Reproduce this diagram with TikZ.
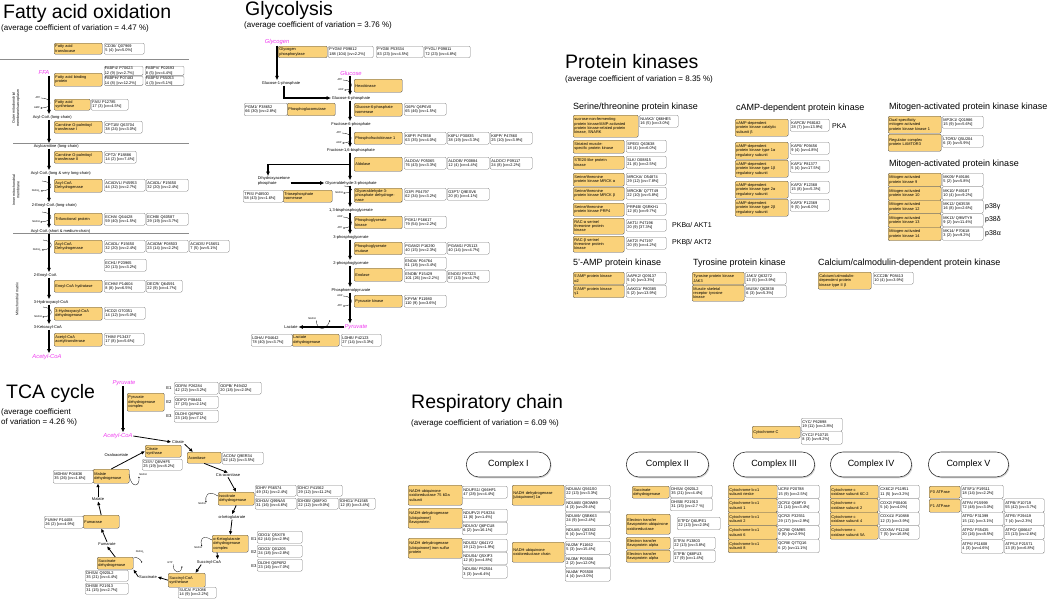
\documentclass[tikz,border=0pt]{standalone}
\usepackage{fontspec}
\setmainfont{Liberation Sans}
\usetikzlibrary{arrows.meta,shapes.misc,shadows}

\definecolor{enzfill}{RGB}{250,210,122}
\definecolor{metab}{RGB}{240,60,240}

\tikzset{
  enz/.style={draw=black!70, fill=enzfill, rounded corners=1.2pt, line width=0.4pt,
    anchor=north west, inner sep=1.2pt, align=left, font=\fontsize{3.9}{4.4}\selectfont},
  prot/.style={draw=black!50, fill=white, rounded corners=1.2pt, line width=0.4pt,
    anchor=north west, inner sep=1.2pt, align=left, font=\fontsize{3.9}{4.4}\selectfont},
  met/.style={inner sep=0.6pt, align=left, font=\fontsize{4}{4.5}\selectfont},
  key/.style={inner sep=0.6pt, text=metab, font=\itshape\fontsize{5.8}{6}\selectfont},
  cof/.style={inner sep=0.3pt, font=\fontsize{2.6}{3}\selectfont},
  region/.style={rotate=90, align=center, inner sep=0pt, font=\fontsize{3.6}{4.2}\selectfont},
  elab/.style={inner sep=0pt, font=\fontsize{4.2}{5}\selectfont},
  ttl/.style={anchor=west, inner sep=0pt, font=\fontsize{19.5}{21}\selectfont},
  sub/.style={anchor=west, inner sep=0pt, align=left, font=\fontsize{8}{10}\selectfont},
  hdr/.style={anchor=west, inner sep=0pt, font=\fontsize{9}{10}\selectfont},
  nick/.style={anchor=west, inner sep=0pt, font=\fontsize{7}{8}\selectfont},
  cplx/.style={rounded rectangle, draw=black!80, fill=white, line width=0.6pt,
    minimum height=25pt, font=\fontsize{9}{10}\selectfont,
    drop shadow={shadow xshift=1pt, shadow yshift=-1.3pt, fill=black!30}},
  main/.style={-{Latex[length=4.4pt,width=4pt]}, line width=1.05pt},
  cyc/.style={-{Latex[length=3.8pt,width=3.5pt]}, line width=0.8pt},
  cofarr/.style={-{Latex[length=1.5pt,width=1.4pt]}, line width=0.3pt},
  sepline/.style={draw=black!45, line width=0.6pt}
}

\begin{document}
\begin{tikzpicture}[x=1pt, y=-1pt]
  \useasboundingbox (0,0) rectangle (1050,600);
  \fill[white] (0,0) rectangle (1050,600);

  % ---------------- Fatty acid oxidation
  \node[ttl] (fatitle) at (3,13) {Fatty acid oxidation};
  \node[sub] (fasub) at (1,28) {(average coefficient of variation = 4.47 \%)};
  \draw[sepline] (0,59) -- (189,59);
  \draw[sepline] (13,143) -- (189,143);
  \draw[sepline] (13,233) -- (189,233);
  \node[region] (faouter) at (16,108) {Outer mitochondrial\\membrane/sarcoplasm};
  \node[region] (fainner) at (16,190) {Inner mitochondrial\\membrane};
  \node[region] (famatrix) at (17,299) {Mitochondrial matrix};

  \coordinate (fax) at (49,0);
  \node[key] (ffa) at (44,73) {FFA};
  \node[met, anchor=west] (facyl1) at (32,117) {Acyl-CoA (long-chain)};
  \node[met, anchor=west] (facarn) at (33,146) {Acylcarnitine (long-chain)};
  \node[met, anchor=west] (facyl2) at (30,173) {Acyl-CoA (long \& very long-chain)};
  \node[met, anchor=west] (faenoyl1) at (31,205) {2-Enoyl-CoA (long-chain)};
  \node[met, anchor=west] (facyl3) at (30,231) {Acyl-CoA (short \& medium-chain)};
  \node[met, anchor=west] (faenoyl2) at (33,275) {2-Enoyl-CoA};
  \node[met, anchor=west] (fahydr) at (33,302) {3-Hydroxyacyl-CoA};
  \node[met, anchor=west] (faketo) at (33,327) {3-Ketoacyl-CoA};
  \node[key] (faacoa) at (47,357) {Acetyl-CoA};
  \draw[main] (ffa.south -| fax) -- (facyl1.north -| fax);
  \draw[main] (facyl1.south -| fax) -- (facarn.north -| fax);
  \draw[main] (facarn.south -| fax) -- (facyl2.north -| fax);
  \draw[main] (facyl2.south -| fax) -- (faenoyl1.north -| fax);
  \draw[main] (faenoyl1.south -| fax) -- (facyl3.north -| fax);
  \draw[main] (facyl3.south -| fax) -- (faenoyl2.north -| fax);
  \draw[main] (faenoyl2.south -| fax) -- (fahydr.north -| fax);
  \draw[main] (fahydr.south -| fax) -- (faketo.north -| fax);
  \draw[main] (faketo.south -| fax) -- (faacoa.north -| fax);

  \node[enz, text width=45.6pt, minimum height=11pt] (fatrans) at (54,43) {Fatty acid\\translocase};
  \node[prot, text width=37.6pt, minimum height=11pt] (cd36) at (104,43) {CD36/ Q07969\\5 (4) [cv=5.0\%]};
  \node[enz, text width=45.6pt, minimum height=13pt] (fabind) at (54,73) {Fatty acid binding\\protein};
  \node[prot, text width=37.6pt, inner sep=0.6pt, minimum height=9pt] (fabp4) at (104,66) {FABP4/ P70623\\12 (9) [cv=2.7\%]};
  \node[prot, text width=37.6pt, inner sep=0.6pt, minimum height=9pt] (fabph) at (104,76) {FABPH/ P07483\\14 (8) [cv=12.2\%]};
  \node[prot, text width=37.6pt, inner sep=0.6pt, minimum height=9pt] (fabpv) at (145,66) {FABPV/ P02693\\8 (5) [cv=4.4\%]};
  \node[prot, text width=37.6pt, inner sep=0.6pt, minimum height=9pt] (fabp5) at (145,76) {FABP5/ P55053\\4 (3) [cv=5.1\%]};
  \node[enz, text width=33.6pt, minimum height=11pt] (fasyn) at (54,99) {Fatty acid\\synthetase};
  \node[prot, text width=34.6pt, minimum height=11pt] (fas) at (91,99) {FAS/ P12785\\17 (3) [cv=4.5\%]};
  \node[enz, text width=45.6pt, minimum height=12pt] (facpt1) at (54,121) {Carnitine O-palmitoyl\\transferase I};
  \node[prot, text width=35.6pt, minimum height=12pt] (cpt1b) at (104,121) {CPT1B/ Q63704\\38 (24) [cv=3.0\%]};
  \node[enz, text width=45.6pt, minimum height=12pt] (facpt2) at (54,151) {Carnitine O-palmitoyl\\transferase II};
  \node[prot, text width=29.6pt, minimum height=12pt] (cpt2) at (104,151) {CPT2/ P18886\\14 (2) [cv=7.4\%]};
  \node[enz, text width=45.6pt, minimum height=13pt] (faacad1) at (54,179) {Acyl-CoA\\Dehydrogenase};
  \node[prot, text width=38.6pt, minimum height=12pt] (acadvl) at (104,179) {ACADVL/ P45953\\44 (32) [cv=2.7\%]};
  \node[prot, text width=39.6pt, minimum height=12pt] (acadl) at (146,179) {ACADL/ P15650\\32 (20) [cv=2.4\%]};
  \node[enz, text width=45.6pt, minimum height=12pt] (fatri) at (54,213) {Trifunctional protein};
  \node[prot, text width=38.6pt, minimum height=12pt] (echa) at (104,213) {ECHA/ Q64428\\59 (40) [cv=1.5\%]};
  \node[prot, text width=39.6pt, minimum height=12pt] (echb) at (146,213) {ECHB/ Q60587\\29 (19) [cv=3.7\%]};
  \node[enz, text width=45.6pt, minimum height=13pt] (faacad2) at (54,240) {Acyl-CoA\\Dehydrogenase};
  \node[prot, text width=38.6pt, minimum height=12pt] (acadl2) at (104,240) {ACADL/ P15650\\32 (20) [cv=2.4\%]};
  \node[prot, text width=39.6pt, minimum height=12pt] (acadm) at (146,240) {ACADM/ P08503\\23 (14) [cv=2.2\%]};
  \node[prot, text width=37.6pt, minimum height=12pt] (acads) at (189,240) {ACADS/ P15651\\7 (5) [cv=5.1\%]};
  \node[prot, text width=39.6pt, minimum height=12pt] (ech1) at (104,259) {ECH1/ P23965\\20 (13) [cv=3.2\%]};
  \node[enz, text width=45.6pt, minimum height=12pt] (faech) at (54,280) {Enoyl-CoA hydratase};
  \node[prot, text width=38.6pt, minimum height=12pt] (echm) at (104,280) {ECHM/ P14604\\8 (8) [cv=6.5\%]};
  \node[prot, text width=33.6pt, minimum height=12pt] (decr) at (146,280) {DECR/ Q64591\\22 (9) [cv=4.7\%]};
  \node[enz, text width=45.6pt, minimum height=13pt] (fahad) at (54,307) {3-Hydroxyacyl-CoA\\dehydrogenase};
  \node[prot, text width=38.6pt, minimum height=12pt] (hcd2) at (104,307) {HCD2/ O70351\\14 (12) [cv=5.0\%]};
  \node[enz, text width=45.6pt, minimum height=13pt] (fathio) at (54,333) {Acetyl-CoA\\acetyltransferase};
  \node[prot, text width=37.6pt, minimum height=12pt] (thim) at (104,333) {THIM/ P13437\\17 (8) [cv=5.6\%]};

  \node[cof] (faatp) at (38,98) {ATP};
  \node[cof] (faamp) at (37,108) {AMP};
  \draw[cofarr] (faatp.east) .. controls (53,98) and (53,108) .. (faamp.east);
  \coordinate (fac1) at (42,181);
  \node[cof] (fafadh1) at (36,191) {FADH\textsubscript{2}};
  \draw[cofarr] (fac1) .. controls (54,182) and (54,190) .. (fafadh1.east);
  \coordinate (fac2) at (42,212);
  \node[cof] (fanadh1) at (36,222) {NADH};
  \draw[cofarr] (fac2) .. controls (54,213) and (54,221) .. (fanadh1.east);
  \coordinate (fac3) at (43,240);
  \node[cof] (fafadh2) at (37,250) {FADH\textsubscript{2}};
  \draw[cofarr] (fac3) .. controls (54,241) and (54,249) .. (fafadh2.east);
  \coordinate (fac4) at (43,307);
  \node[cof] (fanadh2) at (38,317) {NADH};
  \draw[cofarr] (fac4) .. controls (54,308) and (54,316) .. (fanadh2.east);

  % ---------------- Glycolysis
  \node[ttl] (gltitle) at (245,10) {Glycolysis};
  \node[sub] (glsub) at (244,25) {(average coefficient of variation = 3.76 \%)};
  \coordinate (gx) at (350,0);
  \coordinate (bx) at (268,0);
  \node[key] (glycogen) at (277,42) {Glycogen};
  \node[met] (g1p) at (281,83) {Glucose-1-phosphate};
  \node[key] (glucose) at (351,73) {Glucose};
  \node[met] (g6p) at (351,98) {Glucose-6-phosphate};
  \node[met] (f6p) at (351,124) {Fructose-6-phosphate};
  \node[met] (f16bp) at (351,150) {Fructose-1,6-bisphosphate};
  \node[met, anchor=west] (dhap) at (257,181) {Dihydroxyacetone\\phosphate};
  \node[met] (gap) at (351,183) {Glyceraldehyde-3-phosphate};
  \node[met] (bpg) at (351,210) {1,3-bisphosphoglycerate};
  \node[met] (pg3) at (351,237) {3-phosphoglycerate};
  \node[met] (pg2) at (351,263) {2-phosphoglycerate};
  \node[met] (pep) at (351,290) {Phosphoenolpyruvate};
  \node[key] (pyr) at (356,327) {Pyruvate};
  \node[met] (lactate) at (291,327) {Lactate};

  \node[enz, text width=46.6pt, minimum height=11.5pt] (gp) at (278,46) {Glycogen\\phosphorylase};
  \node[prot, text width=42.6pt, minimum height=11.5pt] (pygm) at (328,46) {PYGM/ P09812\\188 (104) [cv=2.2\%]};
  \node[prot, text width=44.6pt, minimum height=11.5pt] (pygb) at (376,46) {PYGB/ P53534\\83 (23) [cv=4.5\%]};
  \node[prot, text width=43.6pt, minimum height=11.5pt] (pygl) at (424,46) {PYGL/ P09811\\72 (23) [cv=4.8\%]};
  \node[enz, text width=45.6pt, minimum height=13pt] (hk) at (354,79) {Hexokinase};
  \node[enz, text width=45.6pt, minimum height=12.5pt] (pgm) at (287,103) {Phosphoglucomutase};
  \node[prot, text width=40.6pt, minimum height=12.5pt] (pgm1) at (244,103) {PGM1/ P38652\\66 (30) [cv=2.8\%]};
  \node[enz, text width=45.6pt, minimum height=13pt] (gpi) at (354,103) {Glucose-6-phosphate\\isomerase};
  \node[prot, text width=39.6pt, minimum height=12pt] (g6pi) at (404,103) {G6PI/ Q6P6V0\\65 (46) [cv=1.5\%]};
  \node[enz, text width=45.6pt, minimum height=12pt] (pfk) at (354,132) {Phosphofructokinase 1};
  \node[prot, text width=39.6pt, minimum height=12pt] (k6pf) at (404,132) {K6PF/ P47858\\63 (35) [cv=4.0\%]};
  \node[prot, text width=39.6pt, minimum height=12pt] (k6pl) at (447,132) {K6PL/ P30835\\38 (19) [cv=3.3\%]};
  \node[prot, text width=39.6pt, minimum height=12pt] (k6pp) at (490,132) {K6PP/ P47860\\25 (10) [cv=3.9\%]};
  \node[enz, text width=45.6pt, minimum height=14pt] (aldo) at (354,157) {Aldolase};
  \node[prot, text width=39.6pt, minimum height=12pt] (aldoa) at (404,157) {ALDOA/ P05065\\76 (43) [cv=3.3\%]};
  \node[prot, text width=39.6pt, minimum height=12pt] (aldob) at (447,157) {ALDOB/ P00884\\12 (4) [cv=4.4\%]};
  \node[prot, text width=39.6pt, minimum height=12pt] (aldoc) at (490,157) {ALDOC/ P09117\\24 (8) [cv=2.2\%]};
  \node[enz, text width=46.6pt, minimum height=12pt] (tpi) at (283,190) {Triosephosphate\\isomerase};
  \node[prot, text width=37.6pt, minimum height=12pt] (tpis) at (243,190) {TPIS/ P48500\\58 (43) [cv=1.6\%]};
  \node[enz, text width=45.6pt, minimum height=12pt] (gapdh) at (354,188) {Glyceraldehyde-3-\\phosphate dehydrogenase};
  \node[prot, text width=39.6pt, minimum height=12pt] (g3p) at (404,188) {G3P/ P04797\\62 (34) [cv=3.2\%]};
  \node[prot, text width=39.6pt, minimum height=12pt] (g3pt) at (447,188) {G3PT/ Q9ESV6\\20 (6) [cv=4.1\%]};
  \node[enz, text width=45.6pt, minimum height=12.5pt] (pgk) at (354,216) {Phosphoglycerate\\kinase};
  \node[prot, text width=39.6pt, minimum height=12pt] (pgk1) at (404,216) {PGK1/ P16617\\79 (54) [cv=2.2\%]};
  \node[enz, text width=45.6pt, minimum height=12.5pt] (pgam) at (354,242) {Phosphoglycerate\\mutase};
  \node[prot, text width=39.6pt, minimum height=12pt] (pgam2) at (404,242) {PGAM2/ P16290\\40 (15) [cv=2.3\%]};
  \node[prot, text width=39.6pt, minimum height=12pt] (pgam1) at (447,242) {PGAM1/ P25113\\40 (14) [cv=4.7\%]};
  \node[enz, text width=45.6pt, minimum height=13pt] (eno) at (354,268) {Enolase};
  \node[prot, text width=39.6pt, minimum height=12pt] (enoa) at (404,257) {ENOA/ P04764\\61 (18) [cv=3.4\%]};
  \node[prot, text width=39.6pt, minimum height=12pt] (enob) at (404,270) {ENOB/ P15429\\101 (26) [cv=2.2\%]};
  \node[prot, text width=39.6pt, minimum height=12pt] (enog) at (447,270) {ENOG/ P07323\\67 (13) [cv=4.7\%]};
  \node[enz, text width=45.6pt, minimum height=12pt] (pk) at (354,295) {Pyruvate kinase};
  \node[prot, text width=39.6pt, minimum height=12pt] (kpym) at (404,295) {KPYM/ P11980\\110 (9) [cv=3.6\%]};
  \node[enz, text width=44.6pt, minimum height=12pt] (ldh) at (292,334) {Lactate\\dehydrogenase};
  \node[prot, text width=38.6pt, minimum height=12pt] (ldha) at (251,334) {LDHA/ P04642\\78 (40) [cv=3.7\%]};
  \node[prot, text width=37.6pt, minimum height=12pt] (ldhb) at (341,334) {LDHB/ P42123\\27 (14) [cv=3.3\%]};

  \draw[main] (glycogen.south) -- (glycogen.south |- g1p.north);
  \draw[main] ([xshift=3pt]g1p.south) |- (g6p.west);
  \draw[main] (glucose.south -| gx) -- (g6p.north -| gx);
  \draw[main] (g6p.south -| gx) -- (f6p.north -| gx);
  \draw[main] (f6p.south -| gx) -- (f16bp.north -| gx);
  \draw[main] (f16bp.south -| gx) -- (gap.north -| gx);
  \draw[main] (aldo.west -| gx) -| (dhap.north -| bx);
  \draw[main] (dhap.east |- gap) -- (gap.west);
  \draw[main] (gap.south -| gx) -- (bpg.north -| gx);
  \draw[main] (bpg.south -| gx) -- (pg3.north -| gx);
  \draw[main] (pg3.south -| gx) -- (pg2.north -| gx);
  \draw[main] (pg2.south -| gx) -- (pep.north -| gx);
  \draw[main] (pep.south -| gx) -- (pyr.north -| gx);
  \draw[main] (pyr.west) -- (lactate.east);

  \node[cof] (hkatp) at (340,80) {ATP};
  \node[cof] (hkadp) at (341,90) {ADP};
  \draw[cofarr] (hkatp.east) .. controls (354,80) and (354,90) .. (hkadp.east);
  \node[cof] (pfkatp) at (339,133) {ATP};
  \node[cof] (pfkadp) at (339,143) {ADP};
  \draw[cofarr] (pfkatp.east) .. controls (354,133) and (354,143) .. (pfkadp.east);
  \coordinate (gapc) at (344,186);
  \node[cof] (gapnadh) at (339,193) {NADH};
  \draw[cofarr] (gapc) .. controls (354,186) and (354,193) .. (gapnadh.east);
  \node[cof] (pgkadp) at (340,217) {ADP};
  \node[cof] (pgkatp) at (340,228) {ATP};
  \draw[cofarr] (pgkadp.east) .. controls (354,217) and (354,228) .. (pgkatp.east);
  \node[cof] (pkadp) at (340,296) {ADP};
  \node[cof] (pkatp) at (340,306) {ATP};
  \draw[cofarr] (pkadp.east) .. controls (354,296) and (354,306) .. (pkatp.east);
  \node[cof] (lacnadh) at (312,319) {NADH};
  \coordinate (lacc) at (330,320);
  \draw[cofarr] (lacnadh.south east) .. controls (317,331) and (326,331) .. (lacc);

  % ---------------- TCA cycle
  \node[ttl] (tcatitle) at (6,393) {TCA cycle};
  \node[sub] (tcasub) at (1,417) {(average coefficient\\of variation = 4.26 \%)};
  \coordinate (tpx) at (123,0);
  \node[key] (tpyr) at (124,383) {Pyruvate};
  \node[enz, text width=34.6pt, minimum height=18pt] (pdh) at (127,393) {Pyruvate\\dehydrogenase\\complex};
  \node[elab] (pdhe1) at (169,388) {E1};
  \node[elab] (pdhe2) at (169,402) {E2};
  \node[elab] (pdhe3) at (169,416) {E3};
  \node[prot, text width=41.6pt, minimum height=12pt] (odpa) at (174,382) {ODPA/ P26284\\42 (22) [cv=3.2\%]};
  \node[prot, text width=39.6pt, minimum height=12pt] (odpb) at (219,382) {ODPB/ P49432\\20 (18) [cv=2.0\%]};
  \node[prot, text width=41.6pt, minimum height=12pt] (odp2) at (174,396) {ODP2/ P08461\\37 (25) [cv=2.1\%]};
  \node[prot, text width=41.6pt, minimum height=12pt] (dldha) at (174,410) {DLDH/ Q6P6R2\\23 (16) [cv=7.1\%]};
  \node[key] (tacoa) at (118,436) {Acetyl-CoA};
  \draw[main] (tpyr.south -| tpx) -- (tacoa.north -| tpx);

  \node[met] (citrate) at (178,442) {Citrate};
  \node[enz, text width=33.6pt, minimum height=12pt] (cs) at (145,445) {Citrate\\synthase};
  \node[prot, text width=37.6pt, minimum height=11pt] (cisy) at (142,459) {CISY/ Q8VHF5\\25 (19) [cv=8.2\%]};
  \node[enz, text width=31.6pt, minimum height=11pt] (acon) at (187,452) {Aconitase};
  \node[prot, text width=38.6pt, minimum height=12pt] (acony) at (222,452) {ACON/ Q9ER34\\62 (42) [cv=3.5\%]};
  \node[met] (cisacon) at (228,475) {Cis-aconitase};
  \node[enz, text width=33.6pt, minimum height=13pt] (idh) at (218,492) {Isocitrate\\dehydrogenase};
  \node[prot, text width=38.6pt, minimum height=11pt] (idhp) at (255,485) {IDHP/ P56574\\49 (31) [cv=2.4\%]};
  \node[prot, text width=42.6pt, minimum height=11pt] (idhc) at (297,485) {IDHC/ P41562\\29 (12) [cv=11.2\%]};
  \node[prot, text width=38.6pt, minimum height=11pt] (idh3a) at (255,498) {IDH3A/ Q99NA5\\31 (16) [cv=4.6\%]};
  \node[prot, text width=38.6pt, minimum height=11pt] (idh3b) at (297,498) {IDH3B/ Q68FX0\\22 (12) [cv=9.0\%]};
  \node[prot, text width=33.6pt, minimum height=11pt] (idhg1) at (339,498) {IDHG1/ P41565\\12 (8) [cv=3.4\%]};
  \node[met] (akg) at (232,517) {α-ketoglutarate};
  \node[enz, text width=33.6pt, minimum height=17pt] (akgdh) at (212,535) {α-Ketoglutarate\\dehydrogenase\\complex};
  \node[elab] (akge1) at (254,539) {E1};
  \node[elab] (akge2) at (254,552) {E2};
  \node[elab] (akge3) at (254,566) {E3};
  \node[prot, text width=42.6pt, minimum height=12pt] (odo1) at (257,531) {ODO1/ Q5XI78\\62 (44) [cv=2.9\%]};
  \node[prot, text width=42.6pt, minimum height=12pt] (odo2) at (257,545) {ODO2/ Q01205\\24 (18) [cv=2.8\%]};
  \node[prot, text width=42.6pt, minimum height=12pt] (dldhb) at (257,559) {DLDH/ Q6P6R2\\23 (16) [cv=7.0\%]};
  \node[met] (succoa) at (209,562) {Succinyl-CoA};
  \node[enz, text width=34.6pt, minimum height=14pt] (scs) at (168,573) {Succinyl-CoA\\synthetase};
  \node[prot, text width=35.6pt, minimum height=11pt] (suca) at (178,587) {SUCA/ P13086\\14 (9) [cv=2.2\%]};
  \node[met] (succ) at (148,577) {Succinate};
  \node[enz, text width=33.6pt, minimum height=12pt] (sdh) at (97,557) {Succinate\\dehydrogenase};
  \node[prot, text width=40.6pt, minimum height=11pt] (dhsa) at (85,570) {DHSA/ Q920L2\\35 (21) [cv=4.4\%]};
  \node[prot, text width=40.6pt, minimum height=11pt] (dhsb) at (85,583) {DHSB/ P21913\\31 (15) [cv=2.7\%]};
  \node[met] (fumarate) at (107,544) {Fumarate};
  \node[enz, text width=33.6pt, minimum height=13pt] (fum) at (83,515) {Fumarase};
  \node[prot, text width=36.6pt, minimum height=12pt] (fumh) at (44,516) {FUMH/ P14408\\26 (2) [cv=4.9\%]};
  \node[met] (malate) at (98,499) {Malate};
  \node[enz, text width=33.6pt, minimum height=14pt] (mdh) at (93,469) {Malate\\dehydrogenase};
  \node[prot, text width=37.6pt, minimum height=13pt] (mdhm) at (53,470) {MDHM/ P04636\\35 (26) [cv=1.6\%]};
  \node[met, anchor=east] (oaa) at (129,455) {Oxaloacetate};

  \draw[cyc] (tacoa.east) -- (citrate.west);
  \draw[cyc] (citrate.south east) -- ([xshift=6pt]acon.north west);
  \draw[cyc] (acon.south) -- (cisacon.north);
  \draw[cyc] (cisacon.south) -- (idh.north);
  \draw[cyc] (idh.south) -- (akg.north);
  \draw[cyc] (akg.south) -- (akgdh.north);
  \draw[cyc] ([xshift=5pt]akgdh.south west) -- ([xshift=-4pt]succoa.north east);
  \draw[cyc] ([xshift=5pt]succoa.south west) -- ([xshift=-10pt]scs.north east);
  \draw[cyc] (scs.west) -- (succ.east);
  \draw[cyc] (succ.west) -- (sdh.south east);
  \draw[cyc] (sdh.north) -- (fumarate.south);
  \draw[cyc] (fumarate.north) -- (fum.south);
  \draw[cyc] (fum.north) -- (malate.south);
  \draw[cyc] (malate.north) -- (malate.north |- mdh.south);
  \draw[cyc] (mdh.north) -- (cs.west);

  \coordinate (mdhc) at (129,474);
  \node[cof] (mdhnadh) at (143,475) {NADH};
  \draw[cofarr] (mdhc) .. controls (131,489) and (140,487) .. (mdhnadh.south west);
  \coordinate (idhc) at (218,496);
  \node[cof] (idhnadh) at (202,504) {NADH};
  \draw[cofarr] (idhc) .. controls (207,489) and (205,497) .. (idhnadh.north east);
  \coordinate (akgc) at (212,540);
  \node[cof] (akgnadh) at (198,548) {NADH};
  \draw[cofarr] (akgc) .. controls (201,533) and (200,542) .. (akgnadh.north east);
  \node[cof] (scsgtp) at (170,563) {GTP};
  \coordinate (scsc) at (182,566);
  \draw[cofarr] (scsgtp.south east) .. controls (173,574) and (181,574) .. (scsc);
  \node[cof] (sdhfad) at (140,552) {FADH\textsubscript{2}};
  \coordinate (sdhc) at (142,563);
  \draw[cofarr] ([yshift=-1pt]sdh.north east) .. controls (137,556) and (141,560) .. (sdhc);

  % ---------------- Protein kinases
  \node[ttl] (pktitle) at (565,62) {Protein kinases};
  \node[sub] (pksub) at (565,79) {(average coefficient of variation = 8.35 \%)};
  \node[hdr] (stk) at (573,107) {Serine/threonine protein kinase};
  \node[hdr] (campk) at (736,108) {cAMP-dependent protein kinase};
  \node[hdr] (mapkk) at (889,107) {Mitogen-activated protein kinase kinase};
  \node[hdr] (mapk) at (889,164) {Mitogen-activated protein kinase};
  \node[hdr] (ampk) at (573,263) {5'-AMP protein kinase};
  \node[hdr] (tyrk) at (693,263) {Tyrosine protein kinase};
  \node[hdr] (camk) at (818,263) {Calcium/calmodulin-dependent protein kinase};

  \node[enz, text width=62.6pt, minimum height=22pt] (snark) at (573,115) {sucrose-non-fermenting\\protein kinase/AMP-activated\\protein kinase-related protein\\kinase, SNARK};
  \node[prot, text width=36.6pt, minimum height=12pt] (nuak2) at (639,115) {NUAK2/ Q66HE5\\16 (5) [cv=3.0\%]};
  \node[enz, text width=48.6pt, minimum height=13pt] (speg) at (573,140) {Striated muscle-\\specific protein kinase};
  \node[prot, text width=37.6pt, minimum height=12pt] (spegp) at (626,140) {SPEG/ Q63638\\18 (4) [cv=6.0\%]};
  \node[enz, text width=48.6pt, minimum height=13pt] (ste) at (573,156) {STE20-like protein\\kinase};
  \node[prot, text width=37.6pt, minimum height=12pt] (slk) at (626,156) {SLK/ O08815\\21 (6) [cv=2.5\%]};
  \node[enz, text width=48.6pt, minimum height=13pt] (mrcka) at (573,173) {Serine/threonine\\protein kinase MRCK α};
  \node[prot, text width=37.6pt, minimum height=12pt] (mrckap) at (626,173) {MRCKA/ O54874\\29 (12) [cv=7.8\%]};
  \node[enz, text width=48.6pt, minimum height=13pt] (mrckb) at (573,187) {Serine/threonine\\protein kinase MRCK β};
  \node[prot, text width=37.6pt, minimum height=12pt] (mrckbp) at (626,187) {MRCKB/ Q7TT49\\22 (10) [cv=5.8\%]};
  \node[enz, text width=48.6pt, minimum height=13pt] (prp4) at (573,203) {Serine/threonine\\protein kinase PRP4};
  \node[prot, text width=37.6pt, minimum height=12pt] (prp4b) at (626,203) {PRP4B/ Q5RKH1\\12 (6) [cv=9.7\%]};
  \node[enz, text width=48.6pt, minimum height=16pt] (akt1) at (573,218) {RAC-α serine/\\threonine protein\\kinase};
  \node[prot, text width=37.6pt, minimum height=12pt] (akt1p) at (626,219) {AKT1/ P47196\\20 (9) [37.3\%]};
  \node[nick] (pkba) at (672,225) {PKBα/ AKT1};
  \node[enz, text width=48.6pt, minimum height=16pt] (akt2) at (573,236) {RAC-β serine/\\threonine protein\\kinase};
  \node[prot, text width=37.6pt, minimum height=12pt] (akt2p) at (626,237) {AKT2/ P47197\\20 (9) [cv=4.2\%]};
  \node[nick] (pkbb) at (672,243) {PKBβ/ AKT2};

  \node[enz, text width=48.6pt, minimum height=12.5pt] (aapk) at (573,272) {5'AMP protein kinase\\α2};
  \node[prot, text width=37.6pt, minimum height=12pt] (aapk2) at (626,272) {AAPK2/ Q09137\\5 (4) [cv=3.3\%]};
  \node[enz, text width=48.6pt, minimum height=12.5pt] (aakg) at (573,285) {5'AMP protein kinase\\γ1};
  \node[prot, text width=37.6pt, minimum height=12pt] (aakg1) at (626,285) {AAKG1/ P80385\\5 (2) [cv=13.9\%]};
  \node[enz, text width=49.6pt, minimum height=12.5pt] (jak) at (692,272) {Tyrosine protein kinase\\JAK3};
  \node[prot, text width=38.6pt, minimum height=12pt] (jak3) at (745,272) {JAK3/ Q63272\\13 (5) [cv=3.9\%]};
  \node[enz, text width=49.6pt, minimum height=16pt] (musk) at (692,285) {Muscle skeletal\\receptor tyrosine\\kinase};
  \node[prot, text width=38.6pt, minimum height=12pt] (muskp) at (745,285) {MUSK/ Q62838\\6 (3) [cv=5.3\%]};

  \node[enz, text width=50.6pt, minimum height=17pt] (kapc) at (735,119) {cAMP-dependent\\protein kinase catalytic\\subunit β};
  \node[prot, text width=36.6pt, minimum height=12pt] (kapcb) at (790,119) {KAPCB/ P68182\\28 (7) [cv=13.9\%]};
  \node[nick] (pka) at (832,126) {PKA};
  \node[enz, text width=50.6pt, minimum height=17pt] (kap0r) at (735,142) {cAMP-dependent\\protein kinase type 1α\\regulatory subunit};
  \node[prot, text width=36.6pt, minimum height=12pt] (kap0) at (790,142) {KAP0/ P09456\\9 (4) [cv=4.8\%]};
  \node[enz, text width=50.6pt, minimum height=17pt] (kap1r) at (735,160) {cAMP-dependent\\protein kinase type 1β\\regulatory subunit};
  \node[prot, text width=36.6pt, minimum height=12pt] (kap1) at (790,160) {KAP1/ P81377\\5 (4) [cv=17.5\%]};
  \node[enz, text width=50.6pt, minimum height=17pt] (kap2r) at (735,181) {cAMP-dependent\\protein kinase type 2α\\regulatory subunit};
  \node[prot, text width=36.6pt, minimum height=12pt] (kap2) at (790,181) {KAP2/ P12368\\15 (8) [cv=5.3\%]};
  \node[enz, text width=50.6pt, minimum height=17pt] (kap3r) at (735,199) {cAMP-dependent\\protein kinase type 2β\\regulatory subunit};
  \node[prot, text width=36.6pt, minimum height=12pt] (kap3) at (790,199) {KAP3/ P12369\\9 (5) [cv=6.0\%]};

  \node[enz, text width=50.6pt, minimum height=17pt] (mp2k) at (888,116) {Dual specificity\\mitogen-activated\\protein kinase kinase 1};
  \node[prot, text width=38.6pt, minimum height=12pt] (mp2k1) at (942,116) {MP2K1/ Q01986\\15 (9) [cv=5.6\%]};
  \node[enz, text width=50.6pt, minimum height=17pt] (lamtor) at (888,134) {Regulator complex\\protein LAMTOR3};
  \node[prot, text width=38.6pt, minimum height=12pt] (ltor3) at (942,135) {LTOR3/ Q5U204\\6 (3) [cv=5.9\%]};
  \node[enz, text width=50.6pt, minimum height=13.5pt] (mk9e) at (888,173) {Mitogen-activated\\protein kinase 9};
  \node[prot, text width=38.6pt, minimum height=13pt] (mk09) at (942,173) {MK09/ P49186\\5 (2) [cv=5.8\%]};
  \node[enz, text width=50.6pt, minimum height=13.5pt] (mk10e) at (888,186.5) {Mitogen-activated\\protein kinase 10};
  \node[prot, text width=38.6pt, minimum height=13pt] (mk10) at (942,186.5) {MK10/ P49187\\10 (4) [cv=9.2\%]};
  \node[enz, text width=50.6pt, minimum height=13.5pt] (mk12e) at (888,200) {Mitogen-activated\\protein kinase 12};
  \node[prot, text width=38.6pt, minimum height=13pt] (mk12) at (942,200) {MK12/ Q63538\\16 (8) [cv=2.6\%]};
  \node[enz, text width=50.6pt, minimum height=13.5pt] (mk13e) at (888,213.5) {Mitogen-activated\\protein kinase 13};
  \node[prot, text width=38.6pt, minimum height=13pt] (mk13) at (942,213.5) {MK13/ Q9WTY9\\9 (2) [cv=11.4\%]};
  \node[enz, text width=50.6pt, minimum height=13.5pt] (mk14e) at (888,227) {Mitogen-activated\\protein kinase 14};
  \node[prot, text width=38.6pt, minimum height=13pt] (mk14) at (942,227) {MK14/ P70618\\3 (2) [cv=9.2\%]};
  \node[nick] (p38g) at (985,207) {p38γ};
  \node[nick] (p38d) at (985,220) {p38δ};
  \node[nick] (p38a) at (985,234) {p38α};

  \node[enz, text width=50.6pt, minimum height=17pt] (kcc) at (818,272) {Calcium/calmodulin-\\dependent protein\\kinase type II β};
  \node[prot, text width=37.6pt, minimum height=12pt] (kcc2b) at (873,272) {KCC2B/ P08413\\10 (4) [cv=3.9\%]};

  % ---------------- Respiratory chain
  \node[ttl] (rctitle) at (411,403) {Respiratory chain};
  \node[sub] (rcsub) at (411,423) {(average coefficient of variation = 6.09 \%)};
  \node[enz, text width=45.6pt, minimum height=12pt] (cytc) at (752,426) {Cytochrome C};
  \node[prot, text width=38.6pt, minimum height=13pt] (cyc) at (801,418) {CYC/ P62898\\19 (11) [cv=2.8\%]};
  \node[prot, text width=38.6pt, minimum height=13pt] (cyc2) at (801,431) {CYC2/ P10715\\8 (3) [cv=9.2\%]};

  \node[cplx, minimum width=91pt] (cx1) at (508.5,464.5) {Complex I};
  \node[cplx, minimum width=89pt] (cx2) at (667.5,464.5) {Complex II};
  \node[cplx, minimum width=88pt] (cx3) at (774,464.5) {Complex III};
  \node[cplx, minimum width=88pt] (cx4) at (871,464.5) {Complex IV};
  \node[cplx, minimum width=87pt] (cx5) at (968.5,464.5) {Complex V};

  \node[enz, text width=51.6pt, minimum height=20pt] (nd75) at (408,485) {NADH-ubiquinone\\oxidoreductase 75 kDa\\subunit};
  \node[prot, text width=42.6pt, minimum height=12pt] (ndufs1) at (462,486) {NDUFS1/ Q66HF1\\47 (28) [cv=4.4\%]};
  \node[enz, text width=51.6pt, minimum height=20pt] (ndflav) at (408,508) {NADH-dehydrogenase\\{[ubiquinone]}\\flavoprotein};
  \node[prot, text width=42.6pt, minimum height=12.5pt] (ndufv2) at (462,509) {NDUFV2/ P19234\\11 (6) [cv=1.4\%]};
  \node[prot, text width=42.6pt, minimum height=12.5pt] (nduv3) at (462,522) {NDUV3/ Q6PCU8\\6 (2) [cv=16.1\%]};
  \node[enz, text width=51.6pt, minimum height=20pt] (ndfes) at (408,538) {NADH dehydrogenase\\{[ubiquinone]} iron-sulfur\\protein};
  \node[prot, text width=42.6pt, minimum height=12.5pt] (ndus2) at (462,539) {NDUS2/ Q641Y2\\19 (12) [cv=1.9\%]};
  \node[prot, text width=42.6pt, minimum height=12.5pt] (ndus4) at (462,552) {NDUS4/ Q5XIF3\\12 (6) [cv=4.8\%]};
  \node[prot, text width=42.6pt, minimum height=12.5pt] (ndus6) at (462,565.5) {NDUS6/ P52504\\3 (3) [cv=6.4\%]};
  \node[enz, text width=49.6pt, minimum height=20pt] (nd1a) at (512,485) {NADH dehydrogenase\\{[ubiquinone]} 1α};
  \node[prot, text width=42.6pt, minimum height=13pt] (nduaa) at (565,485) {NDUAA/ Q561S0\\22 (13) [cv=3.3\%]};
  \node[prot, text width=42.6pt, minimum height=13pt] (nduab) at (565,498.5) {NDUAB/ Q80W89\\4 (3) [cv=29.4\%]};
  \node[prot, text width=42.6pt, minimum height=13pt] (ndua9) at (565,512) {NDUA9/ Q5BK63\\24 (9) [cv=2.4\%]};
  \node[prot, text width=42.6pt, minimum height=13pt] (ndua5) at (565,525.5) {NDUA5/ Q63362\\6 (4) [cv=17.5\%]};
  \node[enz, text width=49.6pt, minimum height=20pt] (ndchain) at (512,542) {NADH-ubiquinone\\oxidoreductase chain};
  \node[prot, text width=42.6pt, minimum height=13pt] (nu2m) at (565,541) {NU2M/ P11662\\5 (3) [cv=15.4\%]};
  \node[prot, text width=42.6pt, minimum height=13pt] (nu3m) at (565,554.5) {NU3M/ P05506\\2 (2) [cv=12.0\%]};
  \node[prot, text width=42.6pt, minimum height=13pt] (nu4m) at (565,568) {NU4M/ P05508\\4 (4) [cv=3.0\%]};

  \node[enz, text width=34.6pt, minimum height=12pt] (sdh2) at (632,486) {Succinate\\dehydrogenase};
  \node[prot, text width=39.6pt, minimum height=12.5pt] (dhsa2) at (670,485) {DHSA/ Q920L2\\35 (21) [cv=4.4\%]};
  \node[prot, text width=39.6pt, minimum height=12.5pt] (dhsb2) at (670,498) {DHSB/ P21913\\31 (15) [cv=2.7 \%]};
  \node[enz, text width=41.6pt, minimum height=20pt] (etfdh) at (626,514) {Electron transfer\\flavoprotein-ubiquinone\\oxidoreductase};
  \node[prot, text width=40.6pt, minimum height=12.5pt] (etfd) at (677,517) {ETFD/ Q6UPE1\\22 (13) [cv=2.0\%]};
  \node[enz, text width=41.6pt, minimum height=12pt] (etfae) at (626,537) {Electron transfer\\flavoprotein alpha};
  \node[prot, text width=39.6pt, minimum height=12pt] (etfa) at (673,537) {ETFA/ P13803\\22 (13) [cv=3.8\%]};
  \node[enz, text width=41.6pt, minimum height=12pt] (etfbe) at (626,550) {Electron transfer\\flavoprotein alpha};
  \node[prot, text width=39.6pt, minimum height=12pt] (etfb) at (673,550) {ETFB/ Q68FU3\\17 (9) [cv=1.4\%]};

  \node[enz, text width=46.6pt, minimum height=13.5pt] (bcri) at (728,485) {Cytochrome b-c1\\subunit rieske};
  \node[prot, text width=39.6pt, minimum height=13.5pt] (ucri) at (777,485) {UCRI/ P20788\\15 (9) [cv=2.5\%]};
  \node[enz, text width=46.6pt, minimum height=13.5pt] (bc1) at (728,498.5) {Cytochrome b-c1\\subunit 1};
  \node[prot, text width=39.6pt, minimum height=13.5pt] (qcr1) at (777,498.5) {QCR1/ Q68FY0\\21 (14) [cv=3.4\%]};
  \node[enz, text width=46.6pt, minimum height=13.5pt] (bc2) at (728,512) {Cytochrome b-c1\\subunit 2};
  \node[prot, text width=39.6pt, minimum height=13.5pt] (qcr2) at (777,512) {QCR2/ P32551\\29 (17) [cv=2.9\%]};
  \node[enz, text width=46.6pt, minimum height=13.5pt] (bc6) at (728,525.5) {Cytochrome b-c1\\subunit 6};
  \node[prot, text width=39.6pt, minimum height=13.5pt] (qcr6) at (777,525.5) {QCR6/ Q5M9I5\\9 (6) [cv=2.9\%]};
  \node[enz, text width=46.6pt, minimum height=13.5pt] (bc8) at (728,539) {Cytochrome b-c1\\subunit 8};
  \node[prot, text width=39.6pt, minimum height=13.5pt] (qcr8) at (777,539) {QCR8/ Q7TQ16\\6 (2) [cv=11.1\%]};

  \node[enz, text width=45.6pt, minimum height=13.5pt] (co6c) at (830,485) {Cytochrome c\\oxidase subunit 6C-2};
  \node[prot, text width=37.6pt, minimum height=13.5pt] (cx6c2) at (879,485) {CX6C2/ P11951\\11 (5) [cv=3.2\%]};
  \node[enz, text width=45.6pt, minimum height=13.5pt] (co2) at (830,498.5) {Cytochrome c\\oxidase subunit 2};
  \node[prot, text width=37.6pt, minimum height=13.5pt] (cox2) at (879,498.5) {COX2/ P00406\\5 (4) [cv=4.0\%]};
  \node[enz, text width=45.6pt, minimum height=13.5pt] (co4) at (830,512) {Cytochrome c\\oxidase subunit 4};
  \node[prot, text width=37.6pt, minimum height=13.5pt] (cox41) at (879,512) {COX41/ P10888\\12 (3) [cv=3.9\%]};
  \node[enz, text width=45.6pt, minimum height=13.5pt] (co5a) at (830,525.5) {Cytochrome c\\oxidase subunit 5A};
  \node[prot, text width=37.6pt, minimum height=13.5pt] (cox5a) at (879,525.5) {COX5A/ P11240\\7 (5) [cv=16.8\%]};

  \node[enz, text width=28.6pt, minimum height=12pt] (f0atp) at (929,486) {F0 ATPase};
  \node[prot, text width=39.6pt, minimum height=13pt] (atsf1) at (961,485) {ATSF1/ P19511\\18 (14) [cv=2.2\%]};
  \node[enz, text width=28.6pt, minimum height=13pt] (f1atp) at (929,499) {F1 ATPase};
  \node[prot, text width=39.6pt, minimum height=13.5pt] (atpa) at (961,498.5) {ATPA/ P15999\\72 (48) [cv=3.0\%]};
  \node[prot, text width=37.6pt, minimum height=13.5pt] (atpb) at (1004,498.5) {ATPB/ P10719\\55 (42) [cv=3.7\%]};
  \node[prot, text width=39.6pt, minimum height=13.5pt] (atpd) at (961,512) {ATPD/ P31399\\15 (11) [cv=3.1\%]};
  \node[prot, text width=37.6pt, minimum height=13.5pt] (atpe) at (1004,512) {ATPE/ P29419\\7 (4) [cv=2.3\%]};
  \node[prot, text width=39.6pt, minimum height=13.5pt] (atpg) at (961,525.5) {ATPG/ P35435\\20 (16) [cv=8.5\%]};
  \node[prot, text width=37.6pt, minimum height=13.5pt] (atpo) at (1004,525.5) {ATPO/ Q06647\\23 (13) [cv=2.6\%]};
  \node[prot, text width=39.6pt, minimum height=13.5pt] (atp6) at (961,539.5) {ATP6/ P11608\\4 (3) [cv=4.6\%]};
  \node[prot, text width=37.6pt, minimum height=13.5pt] (atp5j) at (1004,539.5) {ATP5J/ P21571\\13 (8) [cv=6.8\%]};
\end{tikzpicture}
\end{document}
